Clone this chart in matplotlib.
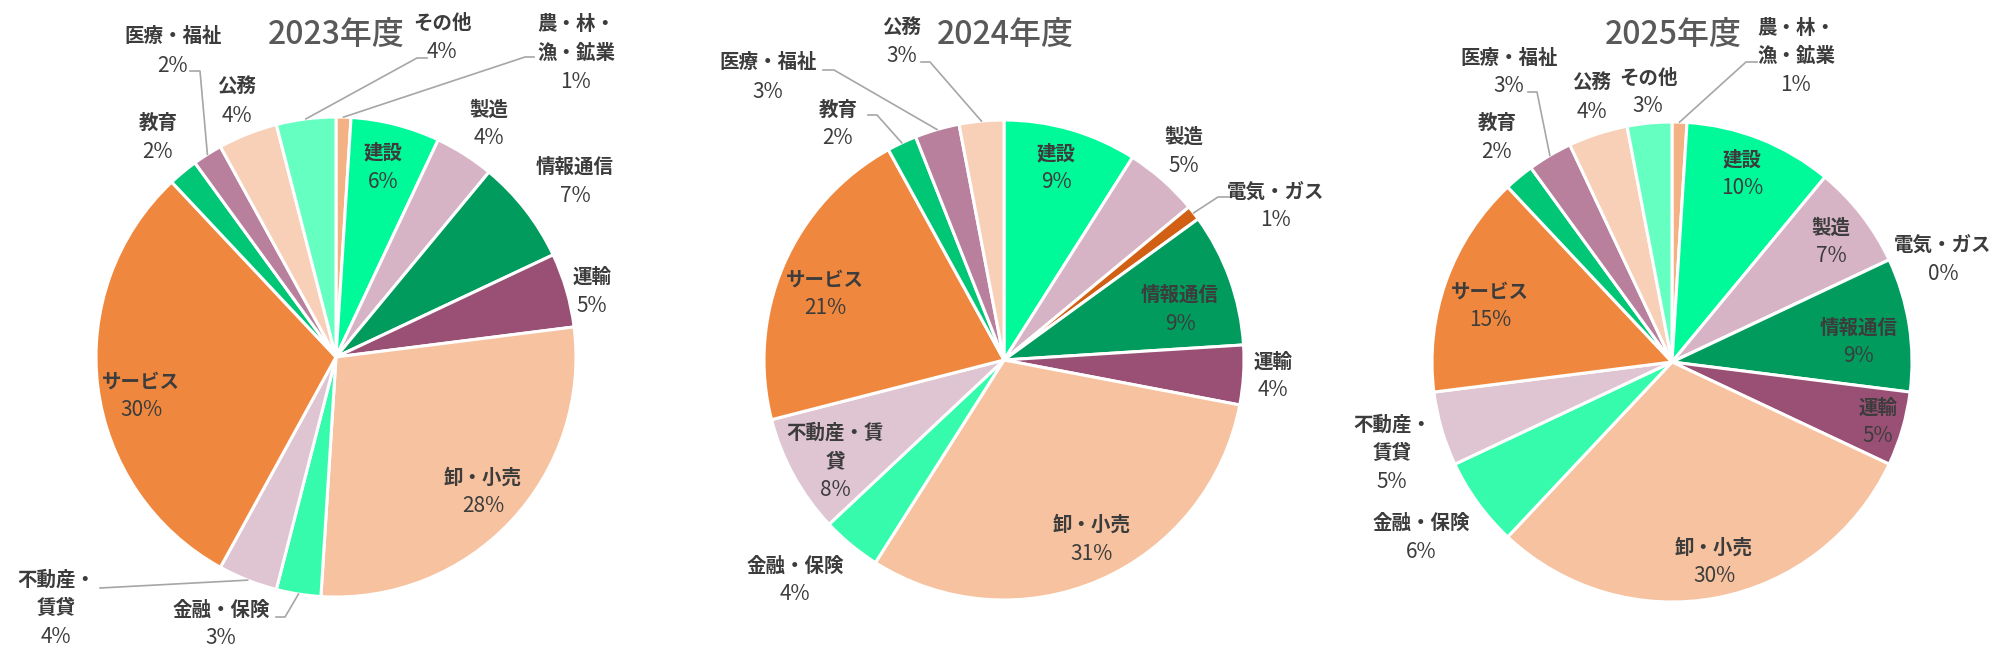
import numpy as np
import matplotlib
matplotlib.use("Agg")
import matplotlib.pyplot as plt

# --- data -------------------------------------------------------------
categories = ['農・林・漁・鉱業', '建設', '製造', '電気・ガス', '情報通信', '運輸',
              '卸・小売', '金融・保険', '不動産・賃貸', 'サービス', '教育',
              '医療・福祉', '公務', 'その他']
colors = ['#F4B183', '#00FA9A', '#D7B4C5', '#D26014', '#009B5D', '#9A5075',
          '#F7C29F', '#36FBAC', '#DFC5D2', '#EF883E', '#00C676',
          '#B8809D', '#F8D0B8', '#66FFC2']

years = ['2023年度', '2024年度', '2025年度']
# None = category not in that year's chart
share_2023 = [1, 6, 4, None, 7, 5, 28, 3, 4, 30, 2, 2, 4, 4]
share_2024 = [None, 9, 5, 1, 9, 4, 31, 4, 8, 21, 2, 3, 3, None]
share_2025 = [1, 10, 7, 0, 9, 5, 30, 6, 5, 15, 2, 3, 4, 3]

# --- layout (pixels, y from top) --------------------------------------
W, H = 2009, 667
R = 240
centers = [(336, 357), (1004, 360), (1672, 362)]
title_pos = [(336, 35), (1005, 35), (1673, 35)]

label_pos = [
    {'農・林・漁・鉱業': (576, 25), '建設': (383, 153), '製造': (489, 110),
     '情報通信': (575, 167), '運輸': (592, 277), '卸・小売': (483, 478),
     '金融・保険': (221, 610), '不動産・賃貸': (56, 580), 'サービス': (141, 382),
     '教育': (158, 123), '医療・福祉': (173, 37), '公務': (237, 87), 'その他': (442, 23)},
    {'建設': (1056, 154), '製造': (1184, 137), '電気・ガス': (1276, 192),
     '情報通信': (1180, 295), '運輸': (1273, 362), '卸・小売': (1092, 525),
     '金融・保険': (795, 566), '不動産・賃貸': (835, 433), 'サービス': (825, 280),
     '教育': (838, 110), '医療・福祉': (768, 63), '公務': (902, 28)},
    {'農・林・漁・鉱業': (1796, 28), '建設': (1742, 160), '製造': (1831, 228),
     '電気・ガス': (1943, 245), '情報通信': (1859, 328), '運輸': (1878, 408),
     '卸・小売': (1714, 548), '金融・保険': (1421, 523), '不動産・賃貸': (1392, 425),
     'サービス': (1490, 292), '教育': (1497, 123), '医療・福祉': (1509, 58),
     '公務': (1592, 83), 'その他': (1648, 78)},
]
wraps = [
    {'農・林・漁・鉱業': '農・林・\n漁・鉱業', '不動産・賃貸': '不動産・\n賃貸'},
    {'不動産・賃貸': '不動産・賃\n貸'},
    {'農・林・漁・鉱業': '農・林・\n漁・鉱業', '不動産・賃貸': '不動産・\n賃貸'},
]
# leader line start points next to the label; the end is put on the wedge
leaders = [
    {'農・林・漁・鉱業': [(534, 57), (525, 57)], 'その他': [(427, 58), (417, 58)],
     '不動産・賃貸': [(100, 588)], '金融・保険': [(276, 617), (285, 617)],
     '医療・福祉': [(190, 71), (200, 71)]},
    {'公務': [(921, 62), (930, 62)], '医療・福祉': [(823, 70), (834, 70)],
     '教育': [(868, 115), (877, 115)], '電気・ガス': [(1229, 197), (1218, 197)]},
    {'農・林・漁・鉱業': [(1757, 62), (1746, 62)], '医療・福祉': [(1528, 92), (1537, 92)]},
]

fam = ['Noto Sans CJK JP', 'DejaVu Sans']
txt_col = '#3C3C3C'
line_h = 28.5

fig = plt.figure(figsize=(W / 100, H / 100), dpi=100)
ax = fig.add_axes([0, 0, 1, 1])


def draw_pie(i, shares):
    cx, cy = centers[i]
    keep = [k for k, v in enumerate(shares) if v is not None]
    vals = [shares[k] for k in keep]
    cols = [colors[k] for k in keep]
    ax.pie(vals, colors=cols, center=(cx, H - cy), radius=R, startangle=90,
           counterclock=False, normalize=True,
           wedgeprops=dict(edgecolor='white', linewidth=2.2))
    total = float(sum(vals))
    cum = 0.0
    for k, v in zip(keep, vals):
        name = categories[k]
        mid = (cum + v / 2) / total * 2 * np.pi
        cum += v
        x, y = label_pos[i][name]
        lines = wraps[i].get(name, name).split('\n')
        for j, ln in enumerate(lines):
            ax.text(x, H - (y + j * line_h), ln, ha='center', va='center',
                    fontsize=14, fontweight='bold', color=txt_col, family=fam)
        ax.text(x, H - (y + len(lines) * line_h), f'{v:.0f}%', ha='center',
                va='center', fontsize=15, color=txt_col, family=fam)
        if name in leaders[i]:
            pts = list(leaders[i][name])
            pts.append((cx + R * np.sin(mid), cy - R * np.cos(mid)))
            xs = [p[0] for p in pts]
            ys = [H - p[1] for p in pts]
            ax.plot(xs, ys, color='#A6A6A6', lw=1.2, zorder=1)
    tx, ty = title_pos[i]
    ax.text(tx, H - ty, years[i], ha='center', va='center', fontsize=23,
            fontweight='medium', color='#595959', family=fam)


for i, s in enumerate([share_2023, share_2024, share_2025]):
    draw_pie(i, s)

ax.set_xlim(0, W)
ax.set_ylim(0, H)
ax.set_aspect('equal')
ax.axis('off')

fig.savefig('out.png', dpi=100)
